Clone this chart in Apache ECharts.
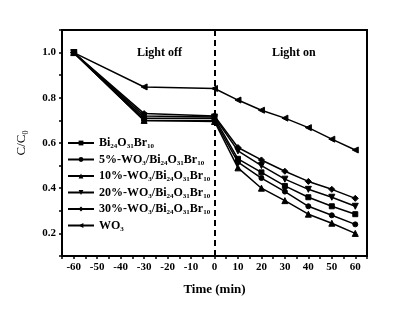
<!DOCTYPE html>
<html><head><meta charset="utf-8">
<script src="https://cdn.jsdelivr.net/npm/echarts@6/dist/echarts.min.js"></script>
<style>html,body{margin:0;padding:0;background:#fff}#c{width:407px;height:325px}</style>
</head><body><div id="c"></div>
<script>
var times = [-60, -30, 0, 10, 20, 30, 40, 50, 60];
var seriesNames = ['Bi24O31Br10', '5%-WO3/Bi24O31Br10', '10%-WO3/Bi24O31Br10', '20%-WO3/Bi24O31Br10', '30%-WO3/Bi24O31Br10', 'WO3'];
var bi = [1.0, 0.71, 0.71, 0.53, 0.47, 0.41, 0.36, 0.32, 0.285];
var wo5 = [1.0, 0.70, 0.70, 0.515, 0.445, 0.385, 0.32, 0.28, 0.24];
var wo10 = [1.0, 0.70, 0.695, 0.49, 0.40, 0.345, 0.285, 0.245, 0.20];
var wo20 = [1.0, 0.72, 0.715, 0.565, 0.50, 0.44, 0.395, 0.36, 0.32];
var wo30 = [1.0, 0.73, 0.72, 0.58, 0.525, 0.475, 0.43, 0.395, 0.355];
var wo3 = [1.0, 0.848, 0.841, 0.79, 0.745, 0.71, 0.668, 0.617, 0.569];
var xTicks = [-60, -50, -40, -30, -20, -10, 0, 10, 20, 30, 40, 50, 60];
var yTicks = [0.2, 0.4, 0.6, 0.8, 1.0];

var font = 'Liberation Serif';
var symbols = ['rect', 'circle', 'triangle', 'triangle', 'diamond', 'triangle'];
var rotates = [0, 0, 0, 180, 0, 90];
var sizes = [5, 5, 6, 6, 6, 6];
var allData = [bi, wo5, wo10, wo20, wo30, wo3];

function pairs(arr) { return times.map(function (t, i) { return [t, arr[i]]; }); }

var series = allData.map(function (d, i) {
  return {
    name: seriesNames[i], type: 'line', data: pairs(d),
    symbol: symbols[i], symbolRotate: rotates[i], symbolSize: sizes[i],
    showAllSymbol: true,
    lineStyle: { color: '#000', width: 1.5 },
    itemStyle: { color: '#000', borderColor: '#000' },
    z: 3
  };
});
series[0].markLine = {
  silent: true, symbol: 'none', label: { show: false },
  lineStyle: { color: '#000', type: [6, 4], width: 2 },
  data: [{ xAxis: 0 }]
};

function legendFmt(name) {
  return name.replace(/(WO|Bi|O|Br)(\d+)/g, function (m, a, b) { return a + '{s|' + b + '}'; })
             .replace(/^([^{]*)/, '{n|$1}')
             .replace(/\}([^{}]+)(?=\{|$)/g, '}{n|$1}');
}

var chart = echarts.init(document.getElementById('c'), null, { renderer: 'canvas' });
chart.setOption({
  animation: false,
  backgroundColor: '#fff',
  grid: { left: 62, right: 40, top: 30, bottom: 69, show: true, borderColor: '#000', borderWidth: 2, backgroundColor: 'transparent' },
  legend: {
    orient: 'vertical', left: 62, top: 132, itemWidth: 26, itemHeight: 6, itemGap: 3.5,
    data: seriesNames.map(function (n) { return { name: n }; }),
    formatter: legendFmt,
    textStyle: {
      fontFamily: font, fontWeight: 'bold', fontSize: 12, color: '#000',
      rich: {
        n: { fontFamily: font, fontWeight: 'bold', fontSize: 12, lineHeight: 14, color: '#000' },
        s: { fontFamily: font, fontWeight: 'bold', fontSize: 7, lineHeight: 14, color: '#000', verticalAlign: 'bottom' }
      }
    }
  },
  xAxis: {
    type: 'value', min: -65, max: 65, interval: 5,
    name: 'Time (min)', nameLocation: 'middle', nameGap: 27,
    nameTextStyle: { fontFamily: font, fontWeight: 'bold', fontSize: 13, color: '#000' },
    axisLine: { onZero: false, lineStyle: { color: '#000', width: 2 } },
    axisTick: { show: true, length: 3, lineStyle: { color: '#000', width: 1.5 } },
    axisLabel: {
      fontFamily: font, fontWeight: 'bold', fontSize: 11, color: '#000', margin: 6,
      formatter: function (v) { return xTicks.indexOf(v) >= 0 ? String(v) : ''; }
    },
    splitLine: { show: false }
  },
  yAxis: {
    type: 'value', min: 0.1, max: 1.1, interval: 0.1,
    name: '{a|C/C}{s|0}', nameLocation: 'middle', nameGap: 32, nameRotate: 90,
    nameTextStyle: {
      rich: {
        a: { fontFamily: font, fontSize: 13, lineHeight: 16, color: '#000' },
        s: { fontFamily: font, fontSize: 8, lineHeight: 16, color: '#000', verticalAlign: 'bottom' }
      }
    },
    axisLine: { onZero: false, lineStyle: { color: '#000', width: 2 } },
    axisTick: { show: true, length: 3, lineStyle: { color: '#000', width: 1.5 } },
    axisLabel: {
      fontFamily: font, fontWeight: 'bold', fontSize: 11, color: '#000', margin: 6,
      formatter: function (v) {
        var r = Math.round(v * 10) / 10;
        for (var i = 0; i < yTicks.length; i++) if (Math.abs(yTicks[i] - r) < 1e-6) return r.toFixed(1);
        return '';
      }
    },
    splitLine: { show: false }
  },
  graphic: [
    { type: 'text', left: 137, top: 47, style: { text: 'Light off', font: 'bold 12px "Liberation Serif"', fill: '#000' } },
    { type: 'text', left: 272, top: 47, style: { text: 'Light on', font: 'bold 12px "Liberation Serif"', fill: '#000' } }
  ],
  series: series
});
</script></body></html>
